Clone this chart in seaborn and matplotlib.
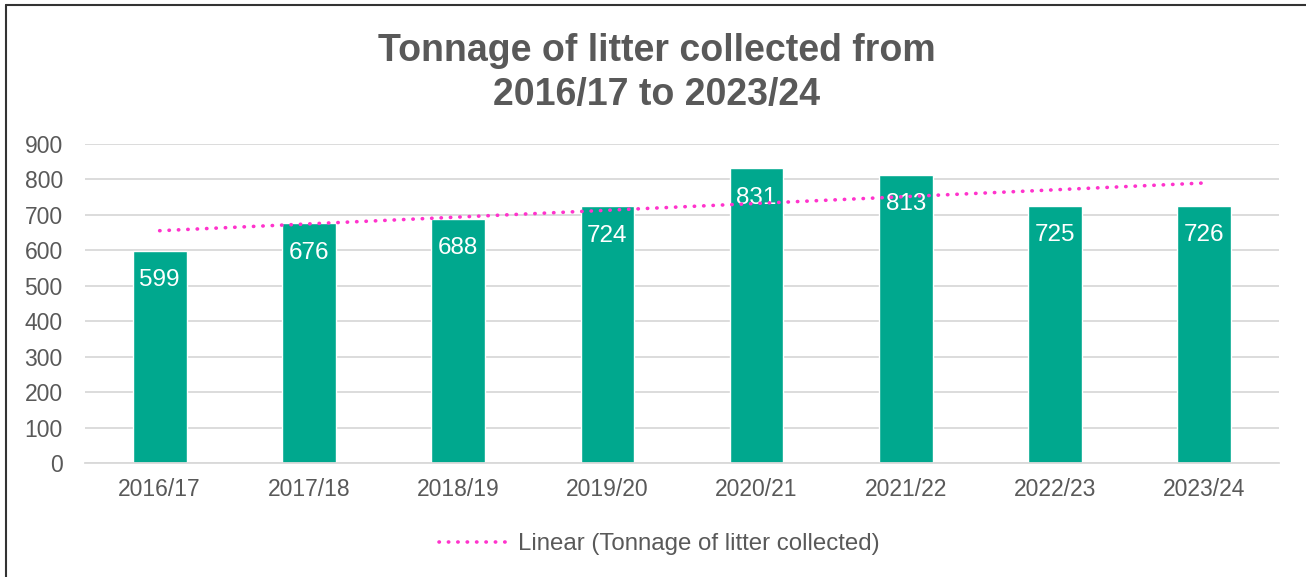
import numpy as np
import matplotlib
matplotlib.use("Agg")
import matplotlib.pyplot as plt
from matplotlib.lines import Line2D
import seaborn as sns

years = ["2016/17", "2017/18", "2018/19", "2019/20", "2020/21", "2021/22", "2022/23", "2023/24"]
tonnage = [599, 676, 688, 724, 831, 813, 725, 726]

BAR = "#00A88E"
PINK = "#FF33CC"
GREY = "#595959"

sns.set_theme(style="white")
plt.rcParams["font.family"] = ["Liberation Sans", "DejaVu Sans"]

fig = plt.figure(figsize=(13.06, 5.77), dpi=100)
ax = fig.add_axes([0.0651, 0.1976, 0.9142, 0.5528])

sns.barplot(x=years, y=tonnage, color=BAR, saturation=1, width=0.36, ax=ax, zorder=2)
ax.bar_label(ax.containers[0], padding=-29, color="white", fontsize=17.5)

# linear trendline over the bars
sns.regplot(x=np.arange(len(years)), y=tonnage, scatter=False, ci=None, truncate=True, ax=ax,
            line_kws=dict(color=PINK, lw=2.6, ls=(0, (0.1, 2.5)), dash_capstyle="round", zorder=3))

ax.set_xlim(-0.5, len(years) - 0.5)
ax.set_ylim(0, 900)
ax.set_yticks(range(0, 901, 100))
ax.set_xlabel("")
ax.set_ylabel("")
ax.yaxis.grid(True, color="#d9d9d9", lw=1.3)
ax.set_axisbelow(True)
for s in ["top", "right", "left"]:
    ax.spines[s].set_visible(False)
ax.spines["bottom"].set_color("#d9d9d9")
ax.spines["bottom"].set_linewidth(1.3)
ax.tick_params(axis="both", length=0, labelsize=16.5, labelcolor=GREY)
ax.tick_params(axis="y", pad=16)
ax.tick_params(axis="x", pad=11)

fig.suptitle("Tonnage of litter collected from\n2016/17 to 2023/24", x=0.503, y=0.942,
             fontsize=27, fontweight="bold", color=GREY, linespacing=1.27)

handle = Line2D([], [], color=PINK, lw=2.6, ls=(0, (0.1, 2.5)), dash_capstyle="round")
fig.legend([handle], ["Linear (Tonnage of litter collected)"], loc="center",
           bbox_to_anchor=(659 / 1306, 1 - 544 / 577), frameon=False, fontsize=17.3,
           labelcolor=GREY, handlelength=2.8, handletextpad=0.5)

# chart border (left and top edges visible)
fig.add_artist(Line2D([6 / 1306, 6 / 1306], [0, 1 - 5 / 577], color="#333333", lw=1.5))
fig.add_artist(Line2D([6 / 1306, 1], [1 - 5 / 577, 1 - 5 / 577], color="#333333", lw=1.5))

fig.savefig("out.png", dpi=100)
